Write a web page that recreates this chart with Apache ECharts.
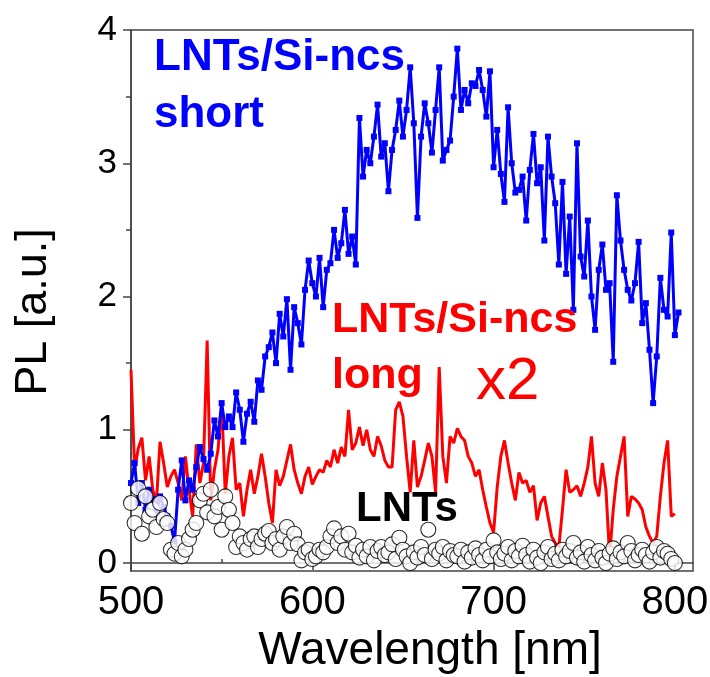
<!DOCTYPE html>
<html>
<head>
<meta charset="utf-8">
<script src="https://cdn.jsdelivr.net/npm/echarts@6/dist/echarts.min.js"></script>
<style>
html,body{margin:0;padding:0;background:#fff;}
#chart{width:710px;height:677px;}
</style>
</head>
<body>
<div id="chart"></div>
<script>
// Wavelength grid (nm)
const wavelength = [
500,502,504,506,508,510,512,514,516,518,520,522,524,526,528,530,532,534,536,538,
540,542,544,546,548,550,552,554,556,558,560,562,564,566,568,570,572,574,576,578,
580,582,584,586,588,590,592,594,596,598,600,602,604,606,608,610,612,614,616,618,
620,622,624,626,628,630,632,634,636,638,640,642,644,646,648,650,652,654,656,658,
660,662,664,666,668,670,672,674,676,678,680,682,684,686,688,690,692,694,696,698,
700,702,704,706,708,710,712,714,716,718,720,722,724,726,728,730,732,734,736,738,
740,742,744,746,748,750,752,754,756,758,760,762,764,766,768,770,772,774,776,778,
780,782,784,786,788,790,792,794,796,798,800,802];

// LNTs/Si-ncs short (blue)
const shortPL = [
0.60,0.75,0.45,0.60,0.40,0.55,0.48,0.38,0.50,0.42,0.35,0.28,0.16,0.55,0.77,0.47,0.62,0.55,0.72,0.87,
0.78,0.70,0.82,1.07,0.95,1.20,1.02,1.10,1.02,1.28,1.15,0.91,1.12,1.21,1.06,1.37,1.30,1.55,1.62,1.73,
1.50,1.87,1.70,1.98,1.45,1.92,1.80,1.64,2.05,2.27,2.10,2.00,2.29,1.92,2.20,2.25,2.50,2.29,2.40,2.65,
2.32,2.45,2.24,3.34,2.90,3.10,3.00,3.20,3.44,3.05,3.15,2.79,3.10,3.25,3.47,3.20,3.40,3.72,3.30,2.59,
3.20,3.45,3.30,3.08,3.40,3.72,3.02,3.10,3.17,3.50,3.86,3.40,3.55,3.45,3.60,3.58,3.70,3.55,3.35,3.69,
2.97,3.25,2.92,2.71,3.42,3.00,2.78,2.80,2.90,2.57,2.95,3.22,2.85,2.97,2.42,3.20,2.90,2.70,2.24,2.86,
2.17,2.60,1.90,3.15,2.30,2.15,2.57,2.00,1.75,2.20,2.39,2.05,2.10,1.51,2.76,2.42,2.20,2.05,1.97,2.10,
2.41,1.80,1.95,1.60,1.20,1.55,2.14,1.90,1.85,2.48,1.71,1.88];

// LNTs/Si-ncs long x2 (red)
const longPL = [
1.45,0.70,0.86,0.94,0.62,0.80,0.55,0.45,0.91,0.75,0.57,0.65,0.70,0.60,0.47,0.80,0.55,0.35,0.89,0.60,
0.75,1.67,0.47,0.70,0.85,1.20,0.52,0.80,0.94,0.55,0.60,0.35,0.55,0.70,0.52,0.65,0.82,0.65,0.45,0.30,
0.70,0.58,0.65,0.77,0.89,0.70,0.60,0.52,0.65,0.72,0.59,0.65,0.70,0.68,0.77,0.72,0.85,0.75,0.87,0.80,
1.15,0.85,0.90,1.02,0.88,1.00,0.85,0.80,0.95,0.88,0.77,0.72,0.72,1.15,1.21,1.10,0.80,0.53,0.92,0.57,
0.65,0.77,0.90,0.80,0.53,1.47,0.80,0.60,0.95,0.90,1.01,0.95,0.92,0.80,0.75,0.65,0.70,0.55,0.42,0.30,
0.23,0.57,0.80,0.92,0.75,0.60,0.47,0.68,0.60,0.62,0.53,0.58,0.32,0.45,0.50,0.35,0.20,0.15,0.12,0.40,
0.70,0.53,0.55,0.58,0.50,0.60,0.72,0.95,0.60,0.50,0.75,0.55,0.05,0.40,0.65,0.80,0.95,0.35,0.50,0.48,
0.45,0.40,0.27,0.20,0.15,0.20,0.50,0.75,0.92,0.35,0.37];

// LNTs (black open circles)
const lntsPL = [
0.45,0.30,0.56,0.22,0.50,0.35,0.40,0.27,0.45,0.33,0.30,0.10,0.07,0.15,0.05,0.10,0.18,0.25,0.30,0.47,
0.52,0.38,0.55,0.35,0.42,0.25,0.50,0.40,0.30,0.12,0.20,0.15,0.10,0.18,0.20,0.12,0.18,0.22,0.24,0.15,
0.18,0.10,0.20,0.27,0.15,0.22,0.14,0.02,0.08,0.10,0.03,0.05,0.10,0.08,0.12,0.20,0.26,0.15,0.20,0.10,
0.22,0.08,0.13,0.04,0.10,0.05,0.12,0.02,0.09,0.12,0.06,0.08,0.14,0.03,0.19,0.10,0.05,0.00,0.08,0.04,
0.12,0.06,0.25,0.03,0.10,0.07,0.12,0.02,0.09,0.06,0.05,0.10,0.01,0.08,0.04,0.11,0.06,0.02,0.10,0.05,
0.17,0.08,0.03,0.07,0.12,0.02,0.09,0.05,0.13,0.06,0.01,0.10,0.04,0.00,0.08,0.12,0.03,0.07,0.02,0.10,
0.05,0.09,0.15,0.04,0.08,0.01,0.12,0.06,0.02,0.09,0.04,0.00,0.07,0.11,0.03,0.08,0.05,0.15,0.09,0.02,
0.06,0.10,0.06,0.01,0.08,0.12,0.04,0.09,0.07,0.03,0.00];

const xTickLabels = [500, 600, 700, 800];
const xMinorTicks = [550, 650, 750];
const yTickLabels = [0, 1, 2, 3, 4];
const yMinorTicks = [0.5, 1.5, 2.5, 3.5];

const pairs = (vals) => vals.map((v, i) => [wavelength[i], v]);

const FONT = 'Liberation Sans, Arial, sans-serif';
const AXIS_COLOR = '#444';

const chart = echarts.init(document.getElementById('chart'), null, {renderer: 'canvas'});

const xBase = {
  type: 'value', min: 500, max: 810, gridIndex: 0,
  axisLine: {show: true, lineStyle: {color: AXIS_COLOR, width: 1.5}},
  splitLine: {show: false}
};
const yBase = {
  type: 'value', min: -0.06, max: 4, gridIndex: 0,
  axisLine: {show: true, lineStyle: {color: AXIS_COLOR, width: 1.5}},
  splitLine: {show: false}
};

chart.setOption({
  animation: false,
  backgroundColor: '#fff',
  grid: {
    left: 131, right: 17, top: 30, bottom: 106,
    show: true, borderColor: AXIS_COLOR, borderWidth: 1.5,
    outerBoundsMode: 'none', containLabel: false
  },
  xAxis: [
    Object.assign({}, xBase, {
      name: 'Wavelength [nm]', nameLocation: 'middle', nameGap: 56,
      nameTextStyle: {fontFamily: FONT, fontSize: 46, color: '#000', padding: [0, 0, 0, 36]},
      axisTick: {show: true, inside: false, length: 7, customValues: xTickLabels,
                 lineStyle: {color: AXIS_COLOR, width: 1.5}},
      axisLabel: {show: true, customValues: xTickLabels, margin: 12,
                  fontFamily: FONT, fontSize: 40, color: '#000'}
    }),
    Object.assign({}, xBase, {
      axisLine: {show: false},
      axisTick: {show: true, inside: false, length: 4, customValues: xMinorTicks,
                 lineStyle: {color: AXIS_COLOR, width: 1.5}},
      axisLabel: {show: false}
    })
  ],
  yAxis: [
    Object.assign({}, yBase, {
      name: 'PL [a.u.]', nameLocation: 'middle', nameGap: 75,
      nameTextStyle: {fontFamily: FONT, fontSize: 45, color: '#000', padding: [0, 23, 0, 0]},
      axisTick: {show: true, inside: false, length: 8, customValues: yTickLabels,
                 lineStyle: {color: AXIS_COLOR, width: 1.5}},
      axisLabel: {show: true, customValues: yTickLabels, margin: 14,
                  fontFamily: FONT, fontSize: 35, color: '#000'}
    }),
    Object.assign({}, yBase, {
      position: 'left', offset: 0,
      axisLine: {show: false},
      axisTick: {show: true, inside: false, length: 5, customValues: yMinorTicks,
                 lineStyle: {color: AXIS_COLOR, width: 1.5}},
      axisLabel: {show: false}
    })
  ],
  series: [
    {
      name: 'LNTs/Si-ncs long x2', type: 'line', xAxisIndex: 0, yAxisIndex: 0,
      data: pairs(longPL), showSymbol: false, symbol: 'none',
      lineStyle: {color: '#ff0000', width: 3}, itemStyle: {color: '#ff0000'},
      z: 2
    },
    {
      name: 'LNTs/Si-ncs short', type: 'line', xAxisIndex: 0, yAxisIndex: 0,
      data: pairs(shortPL), showSymbol: true, symbol: 'rect', symbolSize: 6,
      lineStyle: {color: '#0000ff', width: 3}, itemStyle: {color: '#0000ff'},
      z: 3
    },
    {
      name: 'LNTs', type: 'scatter', xAxisIndex: 0, yAxisIndex: 0,
      data: pairs(lntsPL), symbol: 'circle', symbolSize: 15,
      itemStyle: {color: '#fff', borderColor: '#000', borderWidth: 1.1},
      z: 4
    }
  ],
  graphic: [
    {type: 'text', left: 154, top: 36, z: 10,
     style: {text: 'LNTs/Si-ncs', fill: '#0000ff', font: 'bold 44px ' + FONT}},
    {type: 'text', left: 154, top: 93, z: 10,
     style: {text: 'short', fill: '#0000ff', font: 'bold 44px ' + FONT}},
    {type: 'text', left: 332, top: 299, z: 10,
     style: {text: 'LNTs/Si-ncs', fill: '#ff0000', font: 'bold 43px ' + FONT}},
    {type: 'text', left: 332, top: 355, z: 10,
     style: {text: 'long', fill: '#ff0000', font: 'bold 43px ' + FONT}},
    {type: 'text', left: 476, top: 352, z: 10,
     style: {text: 'x2', fill: '#ff0000', font: '60px ' + FONT}},
    {type: 'text', left: 356, top: 488, z: 10,
     style: {text: 'LNTs', fill: '#000', font: 'bold 42px ' + FONT}}
  ]
});
</script>
</body>
</html>
